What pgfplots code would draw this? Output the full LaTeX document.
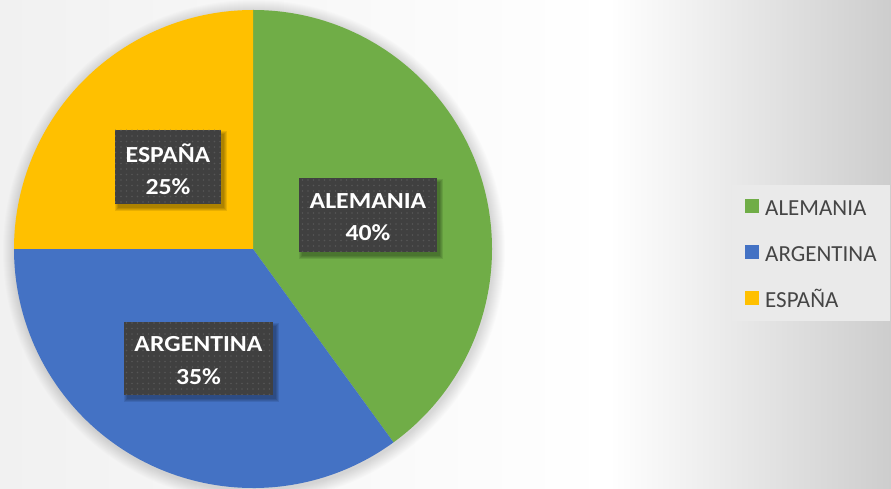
\documentclass[border=0pt]{standalone}
\usepackage{fontspec}
\setmainfont{Carlito}
\newfontfamily\lblfont{Carlito}[FakeStretch=1.12]
\newfontfamily\legfont{Carlito}
\usepackage{pgfplots}
\pgfplotsset{compat=1.18}
\usepackage{pgfplotstable}
\usetikzlibrary{patterns.meta}
\definecolor{cAle}{HTML}{70AD47}
\definecolor{cArg}{HTML}{4472C4}
\definecolor{cEsp}{HTML}{FFC000}
\definecolor{bgl}{HTML}{F1F1F1}
\definecolor{bgr}{HTML}{CDCDCD}
\definecolor{lbg}{HTML}{404040}
\definecolor{dotc}{HTML}{565656}
\definecolor{legtext}{HTML}{454545}
\definecolor{legbg}{HTML}{EAEAEA}

\pgfplotstableread{
name value
ALEMANIA 40
ARGENTINA 35
ESPANA 25
}\piedata
\pgfplotstablegetelem{0}{value}\of\piedata \pgfmathsetmacro\vA{\pgfplotsretval}
\pgfplotstablegetelem{1}{value}\of\piedata \pgfmathsetmacro\vB{\pgfplotsretval}
\pgfplotstablegetelem{2}{value}\of\piedata \pgfmathsetmacro\vC{\pgfplotsretval}
\pgfmathsetmacro\aA{90-3.6*\vA}
\pgfmathsetmacro\aB{\aA-3.6*\vB}
\pgfmathsetmacro\aC{\aB-3.6*\vC}

\newcommand\lbox[5]{%
  \pgfplotsinvokeforeach{0,1,2,3}{%
    \node[overlay, fill=black, opacity=0.09, inner sep=0pt, minimum width=#3pt+2*##1pt, minimum height=#4pt+2*##1pt] at ([shift={(3pt,-4pt)}]axis cs:#1,#2) {};}%
  \node[fill=lbg, inner sep=0pt, minimum width=#3pt, minimum height=#4pt] at (axis cs:#1,#2) {};%
  \node[pattern={Dots[distance=5.5pt,radius=0.8pt]}, pattern color=dotc, inner sep=0pt, minimum width=#3pt, minimum height=#4pt] at (axis cs:#1,#2) {};%
  \node[text=white, align=center, inner sep=0pt, font=\lblfont\bfseries\fontsize{23}{32.5}\selectfont] at ([yshift=-2pt]axis cs:#1,#2) {#5};%
}

\begin{document}%
\begin{tikzpicture}
\useasboundingbox (0,0) rectangle (891pt,488pt);
\clip (0,0) rectangle (891pt,488pt);
\shade[left color=bgl, right color=white] (0,0) rectangle (610pt,488pt);
\shade[left color=white, right color=bgr] (609.5pt,0) rectangle (891pt,488pt);
\begin{axis}[
  at={(0,0)}, anchor=south west,
  x=1pt, y=1pt, xmin=0, xmax=891, ymin=0, ymax=488,
  hide axis, clip=false,
  legend image code/.code={\fill[#1, draw=none] (0pt,-5pt) rectangle (14pt,9pt);},
  legend style={overlay, at={(axis cs:732,303)}, anchor=north west, draw=none, fill=legbg,
    font=\legfont\fontsize{23}{23}\selectfont, text=legtext,
    inner xsep=13pt, inner ysep=13.5pt, row sep=29pt,
    nodes={inner sep=0pt, text height=16pt, text depth=0pt},
    /tikz/every odd column/.append style={column sep=6pt}},
  legend cell align=left,
]
\pgfplotsinvokeforeach{1,2,3,4,5,6,7,8,9,10,11,12}{%
  \fill[overlay, black, opacity=0.011] (axis cs:254,237) circle[radius=239pt+#1pt];}
\fill[overlay, cAle] (axis cs:253,239) -- ++(90:239pt) arc[start angle=90, end angle=\aA, radius=239pt] -- cycle;
\fill[overlay, cArg] (axis cs:253,239) -- ++(\aA:239pt) arc[start angle=\aA, end angle=\aB, radius=239pt] -- cycle;
\fill[overlay, cEsp] (axis cs:253,239) -- ++(\aB:239pt) arc[start angle=\aB, end angle=\aC, radius=239pt] -- cycle;
\lbox{368}{273}{138}{74}{ALEMANIA\\40\%}
\lbox{168}{321}{106}{74}{ESPAÑA\\25\%}
\lbox{198.5}{129.5}{149}{73}{ARGENTINA\\35\%}
\addlegendimage{fill=cAle}\addlegendentry{ALEMANIA}
\addlegendimage{fill=cArg}\addlegendentry{ARGENTINA}
\addlegendimage{fill=cEsp}\addlegendentry{ESPAÑA}
\end{axis}
\end{tikzpicture}%
\end{document}
